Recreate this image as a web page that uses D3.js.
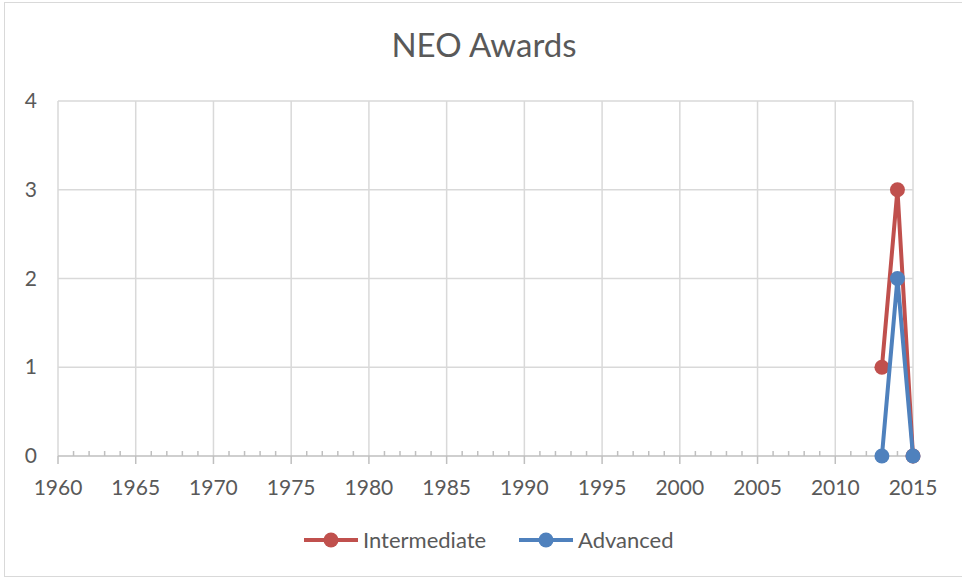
<!DOCTYPE html>
<html>
<head>
<meta charset="utf-8">
<script src="https://cdn.jsdelivr.net/npm/d3@7"></script>
<style>
  body { margin: 0; background: #fff; }
  text { font-family: Lato, "Open Sans", sans-serif; fill: #595959; }
</style>
</head>
<body>
<svg id="chart" width="962" height="579"></svg>
<script>
// data
var years = [2013, 2014, 2015];
var intermediate = [1, 3, 0];
var advanced = [0, 2, 0];
var seriesNames = ["Intermediate", "Advanced"];
var seriesColors = ["#c0504d", "#4f81bd"];
var xTicks = [1960, 1965, 1970, 1975, 1980, 1985, 1990, 1995, 2000, 2005, 2010, 2015];
var yTicks = [0, 1, 2, 3, 4];

var svg = d3.select("#chart");
var width = +svg.attr("width");
var height = +svg.attr("height");
var margin = {left: 58, right: 49, top: 101, bottom: 123};

// chart frame
svg.append("rect")
    .attr("x", 4.5).attr("y", 2.5)
    .attr("width", width - 4).attr("height", height - 5)
    .attr("fill", "#fff")
    .attr("stroke", "#d9d9d9");

var x = d3.scaleLinear().domain([1960, 2015]).range([margin.left, width - margin.right]);
var y = d3.scaleLinear().domain([0, 4]).range([height - margin.bottom, margin.top]);

// gridlines
svg.append("g").selectAll("line")
    .data(yTicks.slice(1))
    .enter().append("line")
    .attr("x1", x(1960)).attr("x2", x(2015))
    .attr("y1", function(d) { return y(d); }).attr("y2", function(d) { return y(d); })
    .attr("stroke", "#d9d9d9").attr("stroke-width", 1.5);
svg.append("g").selectAll("line")
    .data(xTicks)
    .enter().append("line")
    .attr("x1", function(d) { return x(d); }).attr("x2", function(d) { return x(d); })
    .attr("y1", y(0)).attr("y2", y(4))
    .attr("stroke", "#d9d9d9").attr("stroke-width", 1.5);

// x axis with major + minor ticks
var xAxis = svg.append("g").attr("transform", "translate(0," + y(0) + ")");
xAxis.append("line")
    .attr("x1", x(1960)).attr("x2", x(2015))
    .attr("stroke", "#bfbfbf").attr("stroke-width", 1.5);
xAxis.selectAll("line.minor")
    .data(d3.range(1961, 2015).filter(function(d) { return d % 5 != 0; }))
    .enter().append("line").attr("class", "minor")
    .attr("x1", function(d) { return x(d); }).attr("x2", function(d) { return x(d); })
    .attr("y1", -5).attr("y2", 0)
    .attr("stroke", "#bfbfbf").attr("stroke-width", 1.5);
xAxis.selectAll("line.major")
    .data(xTicks)
    .enter().append("line").attr("class", "major")
    .attr("x1", function(d) { return x(d); }).attr("x2", function(d) { return x(d); })
    .attr("y1", 0).attr("y2", 8)
    .attr("stroke", "#bfbfbf").attr("stroke-width", 1.5);
xAxis.selectAll("text")
    .data(xTicks)
    .enter().append("text")
    .attr("x", function(d) { return x(d); })
    .attr("y", 39)
    .attr("text-anchor", "middle")
    .attr("font-size", 21)
    .text(function(d) { return d; });

// y labels
svg.append("g").selectAll("text")
    .data(yTicks)
    .enter().append("text")
    .attr("x", 37)
    .attr("y", function(d) { return y(d) + 7; })
    .attr("text-anchor", "end")
    .attr("font-size", 21)
    .text(function(d) { return d; });

// title
svg.append("text")
    .attr("x", 484).attr("y", 57)
    .attr("text-anchor", "middle")
    .attr("font-size", 33)
    .text("NEO Awards");

// series
var series = [intermediate, advanced];
var line = d3.line()
    .x(function(d, i) { return x(years[i]); })
    .y(function(d) { return y(d); });

series.forEach(function(vals, s) {
    var g = svg.append("g");
    g.append("path")
        .attr("d", line(vals))
        .attr("fill", "none")
        .attr("stroke", seriesColors[s])
        .attr("stroke-width", 4)
        .attr("stroke-linejoin", "round");
    g.selectAll("circle")
        .data(vals)
        .enter().append("circle")
        .attr("cx", function(d, i) { return x(years[i]); })
        .attr("cy", function(d) { return y(d); })
        .attr("r", 7.5)
        .attr("fill", seriesColors[s]);
});

// legend
var legendX = [304, 519];
var legend = svg.append("g");
seriesNames.forEach(function(name, i) {
    var lg = legend.append("g").attr("transform", "translate(" + legendX[i] + ",540)");
    lg.append("line").attr("x1", 0).attr("x2", 54)
        .attr("stroke", seriesColors[i]).attr("stroke-width", 4);
    lg.append("circle").attr("cx", 27).attr("r", 7.5).attr("fill", seriesColors[i]);
    lg.append("text").attr("x", 59).attr("y", 8)
        .attr("font-size", 22)
        .text(name);
});
</script>
</body>
</html>
